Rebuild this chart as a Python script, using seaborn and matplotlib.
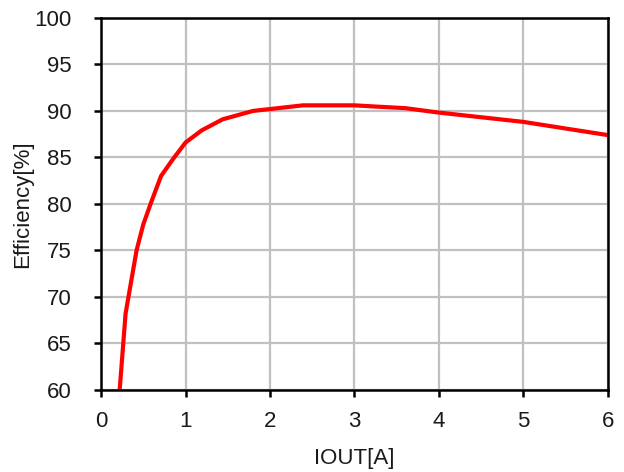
import matplotlib
matplotlib.use("Agg")
import matplotlib.pyplot as plt
import seaborn as sns
import pandas as pd

iout = [0.22, 0.29, 0.42, 0.5, 0.59, 0.71, 0.85, 1.0, 1.19, 1.44, 1.8, 2.0, 2.39, 3.0, 3.29, 3.6, 4.0, 5.0, 6.0]
eff = [60.0, 68.2, 75.0, 77.8, 80.1, 83.0, 84.8, 86.6, 87.9, 89.1, 90.0, 90.2, 90.6, 90.6, 90.45, 90.3, 89.82, 88.82, 87.4]

xticks = [0, 1, 2, 3, 4, 5, 6]
yticks = [60, 65, 70, 75, 80, 85, 90, 95, 100]

sns.set_style("whitegrid")
plt.rcParams['font.family'] = ['Liberation Sans', 'DejaVu Sans']

df = pd.DataFrame({"IOUT": iout, "Eff": eff})

fig = plt.figure(figsize=(6.24, 4.72), dpi=100)
ax = fig.add_axes([0.162, 0.174, 0.812, 0.788])
sns.lineplot(data=df, x="IOUT", y="Eff", ax=ax, color="#ff0000", linewidth=3.0, sort=False)

ax.set_xlim(0, 6)
ax.set_ylim(60, 100)
ax.set_xticks(xticks)
ax.set_yticks(yticks)
ax.set_xticklabels([str(t) for t in xticks])
ax.set_yticklabels([str(t) for t in yticks])
ax.grid(True, color="#c0c0c0", linewidth=1.6)
ax.set_axisbelow(True)
for s in ax.spines.values():
    s.set_color("black")
    s.set_linewidth(1.8)
ax.tick_params(axis="both", which="major", length=5, width=1.8, color="black",
               labelsize=16, labelcolor="#1a1a1a", direction="out")
ax.tick_params(axis="y", pad=16)
ax.tick_params(axis="x", pad=10)
ax.tick_params(left=True, bottom=True)
ax.set_xlabel("IOUT[A]", fontsize=16, color="#1a1a1a", labelpad=12)
ax.set_ylabel("Efficiency[%]", fontsize=16, color="#1a1a1a", labelpad=1)

fig.savefig("out.png", dpi=100)
